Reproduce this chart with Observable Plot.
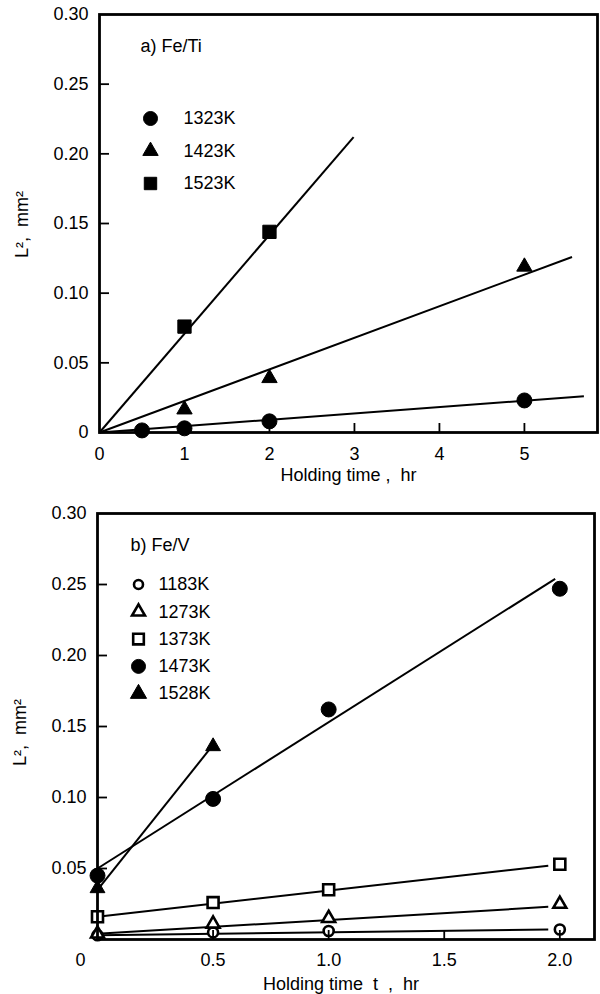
<!DOCTYPE html>
<html>
<head>
<meta charset="utf-8">
<script src="https://cdn.jsdelivr.net/npm/d3@7"></script>
<script src="https://cdn.jsdelivr.net/npm/@observablehq/plot@0.6"></script>
<style>
  html, body { margin: 0; padding: 0; background: #fff; }
  #chart { width: 600px; }
  #chart svg { display: block; }
</style>
</head>
<body>
<div id="chart"></div>
<script>
// ---------- Panel a) Fe/Ti ----------
const titleA = "a) Fe/Ti";
const tempsA = ["1323K", "1423K", "1523K"];
const symbolsA = ["circle", "triangle", "square"];
const fillsA = ["black", "black", "black"];
const timesA = [[0.5, 1, 2, 5], [1, 2, 5], [1, 2]];
const valuesA = [[0.0015, 0.003, 0.008, 0.023], [0.0165, 0.039, 0.119], [0.076, 0.144]];
// fitted lines: [t0, L2_0, t1, L2_1]
const fitsA = [[0, 0, 5.7, 0.026], [0, 0, 5.56, 0.126], [0, 0, 2.99, 0.212]];
const xTicksA = [0, 1, 2, 3, 4, 5];
const yTicksA = [0, 0.05, 0.10, 0.15, 0.20, 0.25, 0.30];
const xLabelA = "Holding time ,\u00a0\u00a0hr";

// ---------- Panel b) Fe/V ----------
const titleB = "b) Fe/V";
const tempsB = ["1183K", "1273K", "1373K", "1473K", "1528K"];
const symbolsB = ["circle", "triangle", "square", "circle", "triangle"];
const fillsB = ["white", "white", "white", "black", "black"];
const timesB = [[0, 0.5, 1.0, 2.0], [0, 0.5, 1.0, 2.0], [0, 0.5, 1.0, 2.0], [0, 0.5, 1.0, 2.0], [0, 0.5]];
const valuesB = [
  [0.003, 0.005, 0.006, 0.007],
  [0.004, 0.011, 0.015, 0.025],
  [0.016, 0.026, 0.035, 0.053],
  [0.045, 0.099, 0.162, 0.247],
  [0.036, 0.136]
];
const fitsB = [
  [0, 0.003, 1.95, 0.007],
  [0, 0.004, 1.95, 0.023],
  [0, 0.016, 1.95, 0.052],
  [0, 0.050, 1.98, 0.254],
  [0, 0.035, 0.5, 0.137]
];
const xTicksB = [0.5, 1.0, 1.5, 2.0];
const yTicksB = [0.05, 0.10, 0.15, 0.20, 0.25, 0.30];
const xLabelB = "Holding time\u00a0\u00a0t\u00a0\u00a0,\u00a0\u00a0hr";

const yLabel = "L\u00b2,\u00a0\u00a0mm\u00b2";
const FONT = "'Liberation Sans', Arial, Helvetica, sans-serif";

function panel(cfg) {
  const W = 600;
  const innerW = W - cfg.ml - cfg.mr;
  const innerH = cfg.height - cfg.mt - cfg.mb;
  const marks = [];

  // fitted lines
  marks.push(Plot.link(cfg.fits, {
    x1: d => d[0], y1: d => d[1], x2: d => d[2], y2: d => d[3],
    stroke: "black", strokeWidth: 2
  }));

  // data points
  cfg.temps.forEach((t, i) => {
    const rows = cfg.times[i].map((x, j) => ({x, y: cfg.values[i][j]}));
    const open = cfg.fills[i] === "white";
    marks.push(Plot.dot(rows, {
      x: "x", y: "y", symbol: cfg.symbols[i],
      r: cfg.r[i], fill: cfg.fills[i], stroke: "black",
      strokeWidth: open ? 2.6 : 1
    }));
  });

  // inward ticks
  marks.push(Plot.tickY(cfg.yTicks.filter(d => d > 0 && d < cfg.yMax - 1e-9), {
    y: d => d, insetRight: innerW - 10, stroke: "black", strokeWidth: 1.8
  }));
  marks.push(Plot.tickX(cfg.xTicks.filter(d => d > 0), {
    x: d => d, insetTop: innerH - 9, stroke: "black", strokeWidth: 1.8
  }));

  // frame
  marks.push(Plot.frame({stroke: "black", strokeWidth: 2.8}));

  // axes tick labels
  marks.push(Plot.axisY({
    ticks: cfg.yTicks, tickSize: 0, tickPadding: 11,
    tickFormat: d => d === 0 ? "0" : d.toFixed(2), label: null, fill: "black"
  }));
  marks.push(Plot.axisX({
    ticks: cfg.xTickLabels, tickSize: 0, tickPadding: cfg.xPad,
    tickFormat: cfg.xFormat, label: null, fill: "black"
  }));
  if (cfg.zeroLabel) {
    marks.push(Plot.text([0], {
      x: d => d, frameAnchor: "bottom", dy: cfg.xPad, dx: -17,
      lineAnchor: "top", text: d => String(d), fill: "black"
    }));
  }

  // axis titles
  marks.push(Plot.text([cfg.xLabel], {
    frameAnchor: "bottom", dy: cfg.xLabelDy, dx: cfg.xLabelDx,
    lineAnchor: "middle", textAnchor: "middle", text: d => d, fill: "black"
  }));
  marks.push(Plot.text([yLabel], {
    frameAnchor: "left", dx: -77, dy: cfg.yLabelDy, rotate: -90,
    textAnchor: "middle", lineAnchor: "middle", text: d => d, fill: "black"
  }));

  // panel title
  marks.push(Plot.text([cfg.title], {
    frameAnchor: "top-left", dx: cfg.titleDx, dy: cfg.titleDy,
    textAnchor: "start", lineAnchor: "middle", text: d => d, fill: "black"
  }));

  // legend
  cfg.temps.forEach((t, i) => {
    const open = cfg.fills[i] === "white";
    const dy = cfg.legDy + i * cfg.legStep;
    marks.push(Plot.dot([t], {
      frameAnchor: "top-left", dx: cfg.legSymDx, dy,
      symbol: cfg.symbols[i], r: cfg.legR[i], fill: cfg.fills[i],
      stroke: "black", strokeWidth: open ? 2.6 : 1
    }));
    marks.push(Plot.text([t], {
      frameAnchor: "top-left", dx: cfg.legTextDx, dy,
      textAnchor: "start", lineAnchor: "middle", text: d => d, fill: "black"
    }));
  });

  return Plot.plot({
    width: W, height: cfg.height,
    marginLeft: cfg.ml, marginRight: cfg.mr, marginTop: cfg.mt, marginBottom: cfg.mb,
    x: {domain: [0, cfg.xMax]},
    y: {domain: [0, cfg.yMax]},
    style: {fontFamily: FONT, fontSize: "18px", background: "white", color: "black", overflow: "visible"},
    marks
  });
}

const chart = document.getElementById("chart");

chart.appendChild(panel({
  height: 490, ml: 99, mr: 3, mt: 14, mb: 58,
  xMax: 5.86, yMax: 0.30,
  temps: tempsA, symbols: symbolsA, fills: fillsA,
  times: timesA, values: valuesA, fits: fitsA,
  r: [7.5, 5.7, 7.5], legR: [7, 5.7, 7],
  xTicks: xTicksA, xTickLabels: xTicksA, xFormat: d => String(d), xPad: 15,
  yTicks: yTicksA,
  xLabel: xLabelA, xLabelDy: 43, xLabelDx: 0, yLabelDy: 1,
  title: titleA, titleDx: 41, titleDy: 32,
  legSymDx: 51, legTextDx: 84, legDy: 104, legStep: 32.5,
  zeroLabel: false
}));

chart.appendChild(panel({
  height: 504, ml: 97, mr: 6, mt: 23, mb: 55,
  xMax: 2.15, yMax: 0.30,
  temps: tempsB, symbols: symbolsB, fills: fillsB,
  times: timesB, values: valuesB, fits: fitsB,
  r: [5, 4.8, 6.2, 7.5, 5.5], legR: [4.5, 4.8, 6, 7, 6],
  xTicks: xTicksB, xTickLabels: xTicksB, xFormat: d3.format(".1f"), xPad: 14,
  yTicks: yTicksB,
  xLabel: xLabelB, xLabelDy: 45, xLabelDx: -5, yLabelDy: 6,
  title: titleB, titleDx: 33, titleDy: 32,
  legSymDx: 41, legTextDx: 61, legDy: 71, legStep: 27.3,
  zeroLabel: true
}));
</script>
</body>
</html>
